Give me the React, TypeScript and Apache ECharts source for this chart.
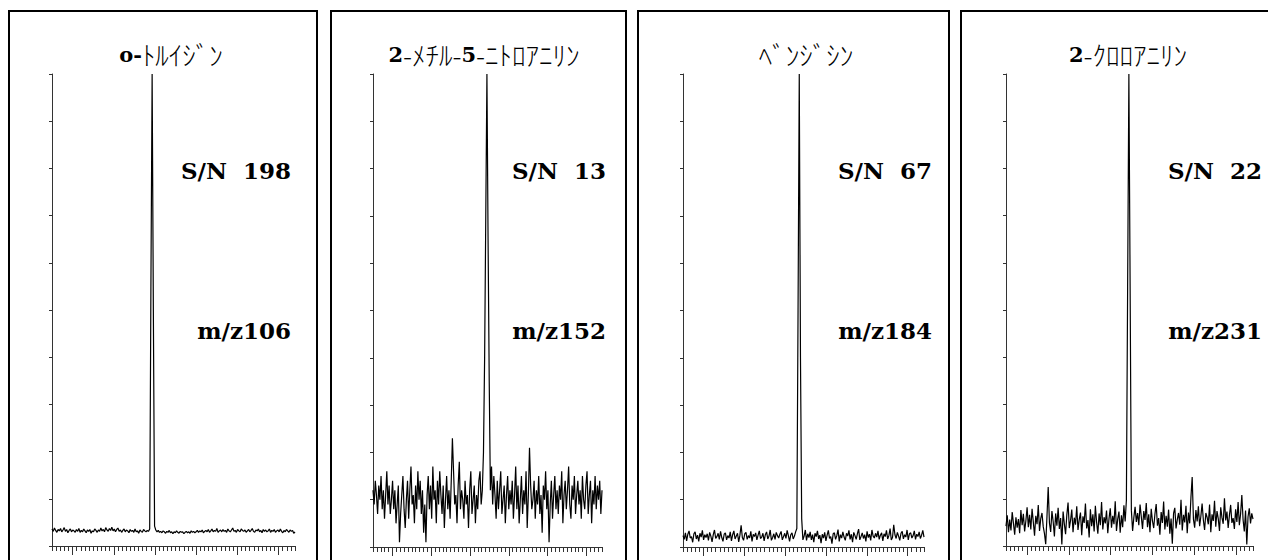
import React, { useEffect, useRef } from "react";
import * as echarts from "echarts";

const titleTexts = [
  "{b|o-}{k|ﾄﾙｲｼﾞﾝ}",
  "{b|2}{k|-ﾒﾁﾙ-}{b|5}{k|-ﾆﾄﾛｱﾆﾘﾝ}",
  "{k|ﾍﾞﾝｼﾞｼﾝ}",
  "{b|2}{k|-ｸﾛﾛｱﾆﾘﾝ}",
];
const snLabels = ["S/N  198", "S/N  13", "S/N  67", "S/N  22"];
const mzLabels = ["m/z106", "m/z152", "m/z184", "m/z231"];

const p1 = [
  3.6, 3.1, 3.8, 3.3, 2.9, 3.5, 3.2, 3.7, 3.0, 3.4, 3.9, 3.1, 3.5, 2.8, 3.3, 3.6, 3.0, 3.4, 3.2, 2.9,
  3.5, 3.1, 3.7, 2.9, 3.3, 3.0, 3.6, 3.2, 2.8, 3.4, 3.1, 3.5, 2.7, 3.2, 3.0, 3.6, 3.3, 2.9, 3.4, 3.1,
  3.8, 3.2, 3.5, 3.0, 3.9, 3.4, 3.1, 3.7, 3.3, 4.0, 3.2, 3.6, 3.0, 3.5, 3.8, 3.1, 3.4, 2.9, 3.3, 3.6,
  3.0, 3.4, 3.2, 2.8, 3.5, 3.1, 3.3, 2.9, 3.6, 3.0, 3.2, 2.7, 3.4, 3.1, 2.9, 3.5, 3.2, 3.0, 3.3, 3.1,
  3.6, 55, 100, 50, 4.2, 3.4, 3.0, 3.3, 2.9, 3.1, 2.8, 3.2, 3.0, 2.7, 3.1, 2.9, 3.3, 2.8, 3.0, 2.6,
  3.0, 2.8, 3.2, 2.9, 2.7, 3.1, 2.9, 3.0, 2.6, 2.9, 3.1, 2.8, 3.0, 2.7, 3.2, 2.9, 3.1, 2.8, 3.0, 3.3,
  2.9, 3.2, 3.0, 3.4, 2.8, 3.1, 3.3, 3.0, 3.5, 2.9, 3.2, 3.6, 3.0, 3.3, 3.1, 3.7, 2.9, 3.2, 3.4, 3.0,
  3.5, 3.1, 3.3, 2.9, 3.6, 3.2, 3.0, 3.4, 3.8, 3.1, 3.3, 2.9, 3.5, 3.2, 3.0, 3.6, 3.3, 3.1, 3.4, 2.9,
  3.2, 3.5, 3.0, 3.3, 3.7, 3.1, 2.9, 3.4, 3.2, 3.6, 3.0, 3.3, 2.8, 3.5, 3.1, 3.4, 3.0, 3.2, 3.6, 2.9,
  3.3, 3.1, 3.5, 2.9, 3.2, 3.4, 3.0, 3.6, 3.1, 2.8, 3.3, 3.0, 3.5, 3.2, 2.9, 3.4, 3.1, 3.3, 2.7, 3.0,
];
const p2 = [
  12, 9, 14, 11, 7, 13, 10, 15, 8, 12, 6, 11, 16, 9, 13, 7, 10, 14, 8, 12,
  5, 9, 13, 1, 7, 11, 15, 8, 4, 10, 14, 6, 12, 17, 9, 11, 5, 13, 8, 16,
  10, 14, 7, 12, 3, 9, 1, 11, 15, 8, 13, 6, 17, 10, 12, 5, 14, 9, 16, 11,
  7, 13, 4, 10, 15, 8, 12, 6, 14, 23, 16, 9, 11, 5, 13, 18, 8, 12, 10, 6,
  14, 9, 11, 4, 12, 16, 7, 10, 13, 5, 11, 8, 14, 16, 9, 12, 20, 40, 70, 100,
  65, 35, 12, 17, 9, 15, 11, 6, 14, 8, 12, 16, 7, 10, 13, 5, 11, 15, 8, 12,
  9, 14, 6, 11, 17, 8, 13, 5, 10, 15, 7, 12, 9, 16, 4, 11, 21, 13, 8, 10,
  14, 6, 12, 9, 15, 7, 11, 3, 13, 10, 16, 8, 12, 1, 9, 14, 6, 11, 15, 8,
  12, 7, 13, 10, 16, 5, 11, 14, 8, 12, 17, 9, 6, 13, 10, 15, 7, 11, 14, 9,
  12, 6, 15, 10, 8, 13, 16, 7, 11, 14, 5, 12, 9, 15, 8, 13, 10, 14, 7, 12,
];
const p3 = [
  2.4, 1.6, 3.0, 1.3, 2.7, 3.4, 1.9, 2.2, 1.0, 2.8, 3.2, 1.7, 2.5, 1.2, 2.9, 2.1, 3.5, 1.5, 2.6, 2.0,
  2.8, 1.4, 3.1, 2.3, 1.1, 2.6, 3.6, 1.8, 2.2, 2.9, 1.6, 3.3, 2.0, 1.2, 2.7, 3.0, 1.5, 2.4, 1.9, 3.2,
  1.3, 2.6, 3.4, 1.7, 2.3, 2.9, 1.1, 2.5, 4.6, 2.0, 1.4, 2.8, 3.1, 1.6, 2.4, 1.9, 3.3, 1.2, 2.7, 2.2,
  3.0, 1.5, 2.5, 3.4, 1.8, 2.1, 2.9, 1.3, 2.6, 3.2, 1.7, 2.3, 3.6, 1.4, 2.0, 2.8, 1.6, 3.1, 2.4, 1.9,
  2.7, 3.3, 1.5, 2.2, 2.9, 1.8, 3.5, 2.4, 1.2, 2.6, 3.0, 1.7, 2.3, 3.2, 3.9, 50, 100, 40, 6.0, 1.5,
  2.3, 3.6, 1.4, 2.8, 2.0, 3.2, 1.5, 2.6, 1.0, 2.9, 2.2, 3.4, 1.7, 2.5, 0.8, 2.7, 1.9, 3.1, 1.3, 2.5,
  3.5, 1.8, 2.2, 0.7, 2.8, 3.0, 1.6, 2.4, 3.7, 1.2, 2.6, 1.9, 3.2, 2.1, 1.4, 2.9, 2.3, 3.5, 1.6, 2.7,
  1.0, 3.1, 2.4, 1.6, 2.8, 3.8, 1.5, 2.2, 3.0, 1.8, 2.6, 1.2, 3.3, 2.0, 2.7, 1.4, 3.6, 2.3, 1.9, 2.9,
  2.1, 3.4, 1.6, 2.5, 3.0, 1.3, 2.8, 2.2, 3.5, 1.7, 2.4, 3.9, 1.5, 2.0, 4.7, 2.6, 1.8, 3.1, 2.3, 1.4,
  2.9, 3.3, 1.7, 2.6, 2.1, 3.6, 1.5, 2.8, 3.0, 1.9, 2.4, 3.4, 1.6, 2.7, 2.2, 3.2, 1.8, 2.5, 3.5, 2.1,
];
const p4 = [
  4.2, 6.5, 2.9, 5.6, 3.3, 7.2, 4.8, 2.4, 6.1, 3.9, 5.7, 2.7, 7.6, 4.4, 6.8, 3.1, 5.3, 8.2, 4.0, 6.6,
  3.5, 7.9, 5.1, 2.2, 6.4, 4.6, 8.7, 3.2, 5.8, 7.0, 4.1, 2.6, 0.4, 6.2, 12.5, 4.9, 3.0, 7.4, 5.2, 2.0,
  6.9, 4.3, 8.1, 3.6, 5.9, 0.3, 7.3, 4.7, 2.5, 6.6, 9.2, 3.8, 5.4, 7.7, 2.9, 6.0, 4.5, 8.4, 3.4, 5.6,
  7.1, 2.3, 6.3, 4.9, 9.0, 3.7, 5.5, 1.8, 7.8, 4.2, 6.7, 3.1, 8.5, 5.0, 2.6, 6.9, 4.4, 9.3, 3.5, 6.1,
  4.8, 7.5, 2.7, 5.8, 8.0, 3.9, 6.4, 4.6, 9.5, 3.2, 5.7, 7.3, 2.8, 6.5, 4.0, 8.6, 5.2, 9.7, 55, 100,
  55, 7.6, 3.2, 6.0, 8.3, 5.1, 7.0, 4.4, 8.8, 6.2, 3.6, 7.4, 5.5, 9.1, 4.0, 6.7, 2.9, 7.9, 5.3, 3.8,
  6.8, 8.9, 4.3, 5.9, 2.4, 7.2, 4.9, 9.4, 3.5, 6.4, 4.1, 7.7, 2.6, 5.8, 0.5, 6.9, 8.1, 3.7, 5.6, 7.0,
  4.5, 9.8, 3.3, 6.6, 5.0, 8.5, 2.7, 7.1, 4.8, 10.3, 14.6, 5.7, 3.9, 7.6, 5.2, 8.4, 4.2, 6.3, 9.0, 5.5,
  3.4, 7.0, 6.1, 4.6, 8.8, 2.9, 6.7, 5.3, 9.6, 4.1, 7.4, 5.8, 3.2, 8.2, 6.0, 4.7, 10.1, 5.4, 7.3, 3.8,
  6.5, 8.7, 4.9, 5.9, 3.6, 7.8, 5.1, 9.3, 4.4, 6.8, 10.8, 5.6, 3.1, 7.5, 0.3, 6.2, 8.0, 4.8, 6.9, 5.7,
];
const traces = [p1, p2, p3, p4];
const tickCategories = Array.from({ length: 60 }, (_, i) => String(i));

// layout (px)
const grids = [
  { left: 52, top: 74, width: 243, height: 472 },
  { left: 373, top: 74, width: 229, height: 473 },
  { left: 683, top: 74, width: 241, height: 473 },
  { left: 1006, top: 74, width: 247, height: 472 },
];
const boxes = [
  [8, 318],
  [330, 627],
  [637, 950],
  [960, 1280],
];
const titleCenters = [171, 484, 806, 1128];
const labelRight = [291, 606, 932, 1262];

export default function App() {
  const ref = useRef<HTMLDivElement>(null);
  useEffect(() => {
    if (!ref.current) return;
    const chart = echarts.init(ref.current, undefined, { renderer: "svg" });
    const axisColor = "#333";
    const labelFont = 'bold 23px "DejaVu Serif"';
    const xAxis: any[] = [];
    const yAxis: any[] = [];
    const series: any[] = [];
    const title: any[] = [];
    const graphic: any[] = [];
    grids.forEach((g, i) => {
      xAxis.push({
        type: "value",
        gridIndex: i,
        min: 0,
        max: traces[i].length - 1,
        show: false,
      });
      xAxis.push({
        type: "category",
        gridIndex: i,
        data: tickCategories,
        boundaryGap: false,
        position: "bottom",
        axisLine: { show: true, lineStyle: { color: axisColor, width: 1 } },
        axisTick: { show: true, interval: 0, length: 5, lineStyle: { color: axisColor, width: 1 } },
        axisLabel: { show: false },
        splitLine: { show: false },
      });
      xAxis.push({
        type: "category",
        gridIndex: i,
        data: tickCategories,
        boundaryGap: false,
        position: "bottom",
        axisLine: { show: false },
        axisTick: {
          show: true,
          interval: (idx: number) => idx % 10 === 5,
          length: 9,
          lineStyle: { color: axisColor, width: 1 },
        },
        axisLabel: { show: false },
        splitLine: { show: false },
      });
      yAxis.push({
        type: "value",
        gridIndex: i,
        min: 0,
        max: 100,
        interval: 10,
        axisLine: { show: true, lineStyle: { color: axisColor, width: 1 } },
        axisTick: { show: true, length: 3, lineStyle: { color: axisColor, width: 1 } },
        axisLabel: { show: false },
        splitLine: { show: false },
      });
      series.push({
        type: "line",
        xAxisIndex: i * 3,
        yAxisIndex: i,
        data: traces[i].map((v, j) => [j, v]),
        symbol: "none",
        silent: true,
        lineStyle: { color: "#000", width: 1.2 },
      });
      title.push({
        text: titleTexts[i],
        left: titleCenters[i],
        top: 41,
        textAlign: "center",
        padding: 0,
        textStyle: {
          rich: {
            b: { fontFamily: "DejaVu Serif", fontWeight: "bold", fontSize: 21, color: "#000" },
            k: { fontFamily: "Noto Sans CJK JP", fontWeight: 300, fontSize: 27, color: "#000" },
          },
        },
      });
      const [bl, br] = boxes[i];
      graphic.push({
        type: "rect",
        shape: { x: bl + 1, y: 11, width: br - bl - 2, height: 600 },
        style: { fill: "none", stroke: "#000", lineWidth: 2 },
        silent: true,
      });
      [
        [snLabels[i], 170],
        [mzLabels[i], 330],
      ].forEach(([text, y]) => {
        graphic.push({
          type: "text",
          x: labelRight[i],
          y: y as number,
          style: {
            text: text as string,
            font: labelFont,
            fill: "#000",
            align: "right",
            verticalAlign: "middle",
            textAlign: "right",
            textVerticalAlign: "middle",
          },
          silent: true,
        });
      });
    });
    chart.setOption({
      animation: false,
      backgroundColor: "#fff",
      title,
      grid: grids.map((g) => ({ ...g, containLabel: false })),
      xAxis,
      yAxis,
      series,
      graphic,
    });
    return () => chart.dispose();
  }, []);
  return (
    <div
      ref={ref}
      style={{ position: "absolute", left: 0, top: 0, width: 1268, height: 560 }}
    />
  );
}
